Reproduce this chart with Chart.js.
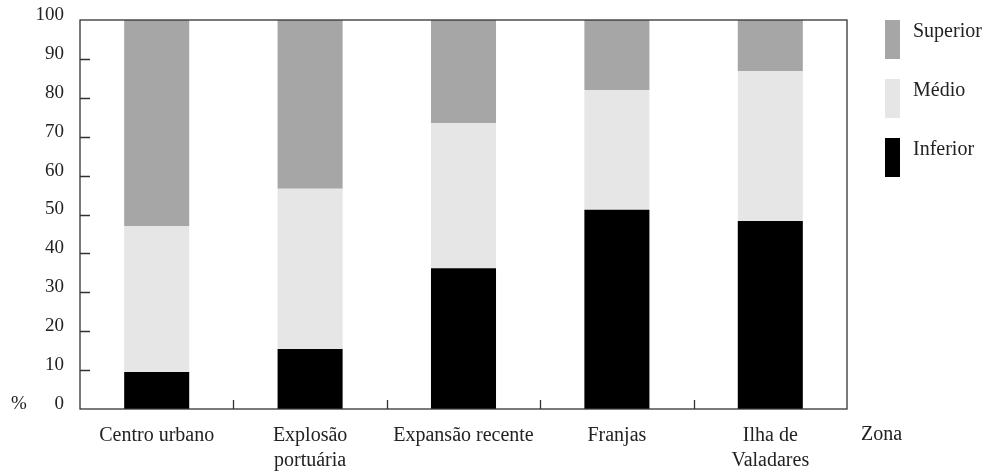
<!DOCTYPE html>
<html><head><meta charset="utf-8">
<script src="https://cdn.jsdelivr.net/npm/chart.js@4/dist/chart.umd.min.js"></script>
<style>html,body{margin:0;padding:0;background:#fff}#wrap{width:987px;height:471px}</style>
</head><body><div id="wrap"><canvas id="c" width="987" height="471"></canvas></div>
<script>
const categories = [["Centro urbano"], ["Explosão", "portuária"], ["Expansão recente"], ["Franjas"], ["Ilha de", "Valadares"]];
const inferior = [9.5, 15.4, 36.2, 51.2, 48.3];
const medio = [37.5, 41.2, 37.3, 30.8, 38.6];
const superior = [53.0, 43.4, 26.5, 18.0, 13.1];
const yTicks = [0, 10, 20, 30, 40, 50, 60, 70, 80, 90, 100];
const FONT = "'Liberation Serif', 'Times New Roman', serif";
const TXT = '#222';

const decor = {
  id: 'decor',
  afterDraw(chart) {
    const ctx = chart.ctx, a = chart.chartArea, xs = chart.scales.x, ys = chart.scales.y;
    ctx.save();
    ctx.strokeStyle = '#333'; ctx.lineWidth = 1.3;
    ctx.strokeRect(a.left, a.top, a.right - a.left, a.bottom - a.top);
    ctx.beginPath();
    yTicks.forEach(v => { if (v > 0 && v < 100) { const y = Math.round(ys.getPixelForValue(v)) + 0.5; ctx.moveTo(a.left, y); ctx.lineTo(a.left + 10, y); } });
    const n = categories.length;
    for (let i = 1; i < n; i++) {
      const x = Math.round((xs.getPixelForValue(i - 1) + xs.getPixelForValue(i)) / 2) + 0.5;
      ctx.moveTo(x, a.bottom); ctx.lineTo(x, a.bottom - 9);
    }
    ctx.stroke();
    ctx.fillStyle = TXT; ctx.font = '19px ' + FONT; ctx.textBaseline = 'middle'; ctx.textAlign = 'left';
    ctx.fillText('%', 11, ys.getPixelForValue(0) - 5);
    ctx.font = '20px ' + FONT;
    ctx.fillText('Zona', 861, a.bottom + 26);
    // legend
    const ds = chart.data.datasets.slice().reverse();
    ds.forEach((d, i) => {
      const y0 = a.top + i * 59;
      ctx.fillStyle = d.backgroundColor;
      ctx.fillRect(885, y0, 15, 39);
      ctx.fillStyle = TXT; ctx.textBaseline = 'middle';
      ctx.fillText(d.label, 913, y0 + 12);
    });
    ctx.restore();
  }
};

new Chart(document.getElementById('c'), {
  type: 'bar',
  data: {
    labels: categories,
    datasets: [
      { label: 'Inferior', data: inferior, backgroundColor: '#000000' },
      { label: 'Médio', data: medio, backgroundColor: '#e6e6e6' },
      { label: 'Superior', data: superior, backgroundColor: '#a6a6a6' }
    ]
  },
  options: {
    responsive: false, animation: false,
    layout: { padding: { left: 0, right: 140, top: 20, bottom: 0 } },
    datasets: { bar: { barPercentage: 0.424, categoryPercentage: 1 } },
    plugins: { legend: { display: false }, tooltip: { enabled: false } },
    scales: {
      x: {
        stacked: true,
        grid: { display: false, drawTicks: false }, border: { display: false },
        ticks: { color: TXT, font: { family: FONT, size: 20, lineHeight: 1.25 }, padding: 14, maxRotation: 0, autoSkip: false },
        afterFit(s) { s.height = 62; s.paddingLeft = 0; s.paddingRight = 0; }
      },
      y: {
        stacked: true, min: 0, max: 100,
        afterBuildTicks(s) { s.ticks = yTicks.map(v => ({ value: v })); },
        grid: { display: false, drawTicks: false }, border: { display: false },
        ticks: { color: TXT, font: { family: FONT, size: 19 }, padding: 16, labelOffset: -5 },
        afterFit(s) { s.width = 80; s.paddingTop = 0; s.paddingBottom = 0; }
      }
    }
  },
  plugins: [decor]
});
</script></body></html>
